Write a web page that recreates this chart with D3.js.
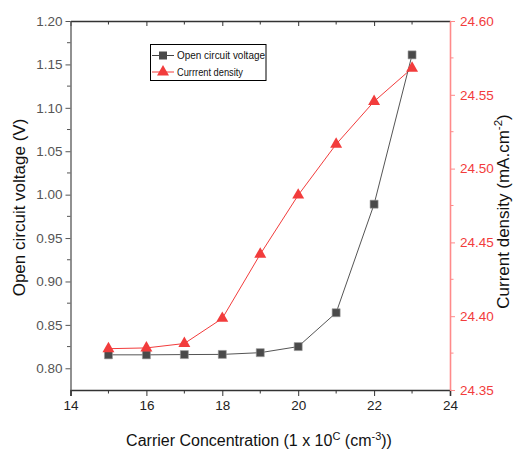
<!DOCTYPE html>
<html>
<head>
<meta charset="utf-8">
<script src="https://cdn.jsdelivr.net/npm/d3@7"></script>
<style>
  html, body { margin: 0; padding: 0; background: #fff; }
  svg { display: block; font-family: "Liberation Sans", Arial, sans-serif; }
</style>
</head>
<body>
<svg id="chart" width="514" height="451"></svg>
<script>
// Carrier concentration exponent (x) and the two measured series
const concentration = [15, 16, 17, 18, 19, 20, 21, 22, 23];
const vocValues = [0.8155, 0.8155, 0.8158, 0.816, 0.818, 0.825, 0.864, 0.989, 1.161];
const jscValues = [24.378, 24.3785, 24.3815, 24.3985, 24.442, 24.482, 24.5165, 24.5455, 24.568];

const xTicks = [14, 16, 18, 20, 22, 24];
const leftTicks = [0.80, 0.85, 0.90, 0.95, 1.00, 1.05, 1.10, 1.15, 1.20];
const rightTicks = [24.35, 24.40, 24.45, 24.50, 24.55, 24.60];
const seriesNames = ["Open circuit voltage", "Currrent density"];

const svg = d3.select("#chart");
const m = { left: 70.5, right: 450, top: 21, bottom: 390 };

const x = d3.scaleLinear().domain([14, 24]).range([m.left, m.right]);
const yL = d3.scaleLinear().domain([0.775, 1.20]).range([m.bottom, m.top]);
const yR = d3.scaleLinear().domain([24.35, 24.60]).range([m.bottom, m.top]);

const dark = "#333333";
const red = "#f23c3c";
const pink = "#ff8a8a";

// minor tick positions at half steps
const xMinor = d3.range(15, 24, 2);
const leftMinor = d3.range(0, 9).map(i => 0.775 + 0.05 * i).filter(v => v > 0.776);
const rightMinor = [24.375, 24.425, 24.475, 24.525, 24.575];

// bottom axis
const gB = svg.append("g").attr("transform", `translate(0,${m.bottom})`);
gB.call(d3.axisBottom(x).tickValues(xTicks).tickFormat(d3.format("d")).tickSize(6).tickPadding(4));
gB.selectAll("line.minor").data(xMinor).enter().append("line").attr("class", "minor")
  .attr("x1", d => x(d)).attr("x2", d => x(d)).attr("y1", 0).attr("y2", 3.5)
  .attr("stroke", dark);
gB.select(".domain").attr("stroke", dark).attr("stroke-width", 1.6);
gB.selectAll(".tick line").attr("stroke", dark);
gB.selectAll(".tick text").attr("fill", "#222").style("font-size", "13.5px");

// top axis with inward ticks
const gT = svg.append("g").attr("transform", `translate(0,${m.top})`);
gT.call(d3.axisBottom(x).tickValues(xTicks).tickFormat("").tickSize(5).tickSizeOuter(0));
gT.selectAll("line.minor").data(xMinor).enter().append("line").attr("class", "minor")
  .attr("x1", d => x(d)).attr("x2", d => x(d)).attr("y1", 0).attr("y2", 3.5)
  .attr("stroke", dark);
gT.select(".domain").attr("stroke", dark).attr("stroke-width", 1.6);
gT.selectAll(".tick line").attr("stroke", dark);

// left axis
const gL = svg.append("g").attr("transform", `translate(${m.left},0)`);
gL.call(d3.axisLeft(yL).tickValues(leftTicks).tickFormat(d3.format(".2f")).tickSize(5).tickSizeOuter(0).tickPadding(3));
gL.selectAll("line.minor").data(leftMinor).enter().append("line").attr("class", "minor")
  .attr("x1", -3.5).attr("x2", 0).attr("y1", d => yL(d)).attr("y2", d => yL(d))
  .attr("stroke", "#555");
gL.select(".domain").attr("stroke", "#555").attr("stroke-width", 1.3);
gL.selectAll(".tick line").attr("stroke", "#555");
gL.selectAll(".tick text").attr("fill", "#555").style("font-size", "13.5px");

// right axis
const gR = svg.append("g").attr("transform", `translate(${m.right},0)`);
gR.call(d3.axisRight(yR).tickValues(rightTicks).tickFormat(d3.format(".2f")).tickSize(5).tickSizeOuter(0).tickPadding(5));
gR.selectAll("line.minor").data(rightMinor).enter().append("line").attr("class", "minor")
  .attr("x1", 0).attr("x2", 3.5).attr("y1", d => yR(d)).attr("y2", d => yR(d))
  .attr("stroke", pink);
gR.select(".domain").attr("stroke", pink).attr("stroke-width", 1.6);
gR.selectAll(".tick line").attr("stroke", pink);
gR.selectAll(".tick text").attr("fill", red).style("font-size", "13.5px");

// axis titles
svg.append("text")
  .attr("transform", `translate(25,${(m.top + m.bottom) / 2 + 2}) rotate(-90)`)
  .attr("text-anchor", "middle").attr("fill", "#111").style("font-size", "17px")
  .text("Open circuit voltage (V)");

const rt = svg.append("text")
  .attr("transform", `translate(508.5,${(m.top + m.bottom) / 2 + 6}) rotate(-90)`)
  .attr("text-anchor", "middle").attr("fill", "#111").style("font-size", "17px");
rt.append("tspan").text("Current density (mA.cm");
rt.append("tspan").attr("dy", -7).style("font-size", "11.5px").text("-2");
rt.append("tspan").attr("dy", 7).text(")");

const bt = svg.append("text")
  .attr("x", 259).attr("y", 446)
  .attr("text-anchor", "middle").attr("fill", "#111").style("font-size", "16px");
bt.append("tspan").text("Carrier Concentration (1 x 10");
bt.append("tspan").attr("dy", -6).style("font-size", "11px").text("C");
bt.append("tspan").attr("dy", 6).text(" (cm");
bt.append("tspan").attr("dy", -6).style("font-size", "11px").text("-3");
bt.append("tspan").attr("dy", 6).text("))");

// series data joined with x values
const vocData = concentration.map((c, i) => ({ c, v: vocValues[i] }));
const jscData = concentration.map((c, i) => ({ c, v: jscValues[i] }));

svg.append("path").datum(jscData)
  .attr("fill", "none").attr("stroke", red).attr("stroke-width", 1)
  .attr("d", d3.line().x(d => x(d.c)).y(d => yR(d.v)));

svg.append("path").datum(vocData)
  .attr("fill", "none").attr("stroke", "#555").attr("stroke-width", 1)
  .attr("d", d3.line().x(d => x(d.c)).y(d => yL(d.v)));

const sq = d3.symbol().type(d3.symbolSquare).size(64);
const tri = d3.symbol().type(d3.symbolTriangle).size(62);

svg.append("g").selectAll("path").data(vocData).enter().append("path")
  .attr("transform", d => `translate(${x(d.c)},${yL(d.v)})`)
  .attr("d", sq).attr("fill", "#4a4a4a").attr("stroke", "#9a9a9a").attr("stroke-width", 0.6);

svg.append("g").selectAll("path").data(jscData).enter().append("path")
  .attr("transform", d => `translate(${x(d.c)},${yR(d.v)})`)
  .attr("d", tri).attr("fill", red);

// legend
const lg = svg.append("g");
lg.append("rect").attr("x", 150.5).attr("y", 44.5).attr("width", 115.5).attr("height", 36)
  .attr("fill", "#fff").attr("stroke", "#000").attr("stroke-width", 1);
const rows = [
  { name: seriesNames[0], color: "#444", sym: sq, fill: "#4a4a4a", y: 55.5 },
  { name: seriesNames[1], color: red, sym: tri, fill: red, y: 72 }
];
rows.forEach(r => {
  lg.append("line").attr("x1", 152).attr("x2", 174).attr("y1", r.y).attr("y2", r.y)
    .attr("stroke", r.color).attr("stroke-width", 1);
  lg.append("path").attr("transform", `translate(163,${r.y})`)
    .attr("d", r.sym).attr("fill", r.fill);
  lg.append("text").attr("x", 177).attr("y", r.y + 3.8)
    .attr("fill", "#111").style("font-size", "10.5px")
    .attr("textLength", r === rows[0] ? 88 : 66).attr("lengthAdjust", "spacingAndGlyphs")
    .text(r.name);
});
</script>
</body>
</html>
